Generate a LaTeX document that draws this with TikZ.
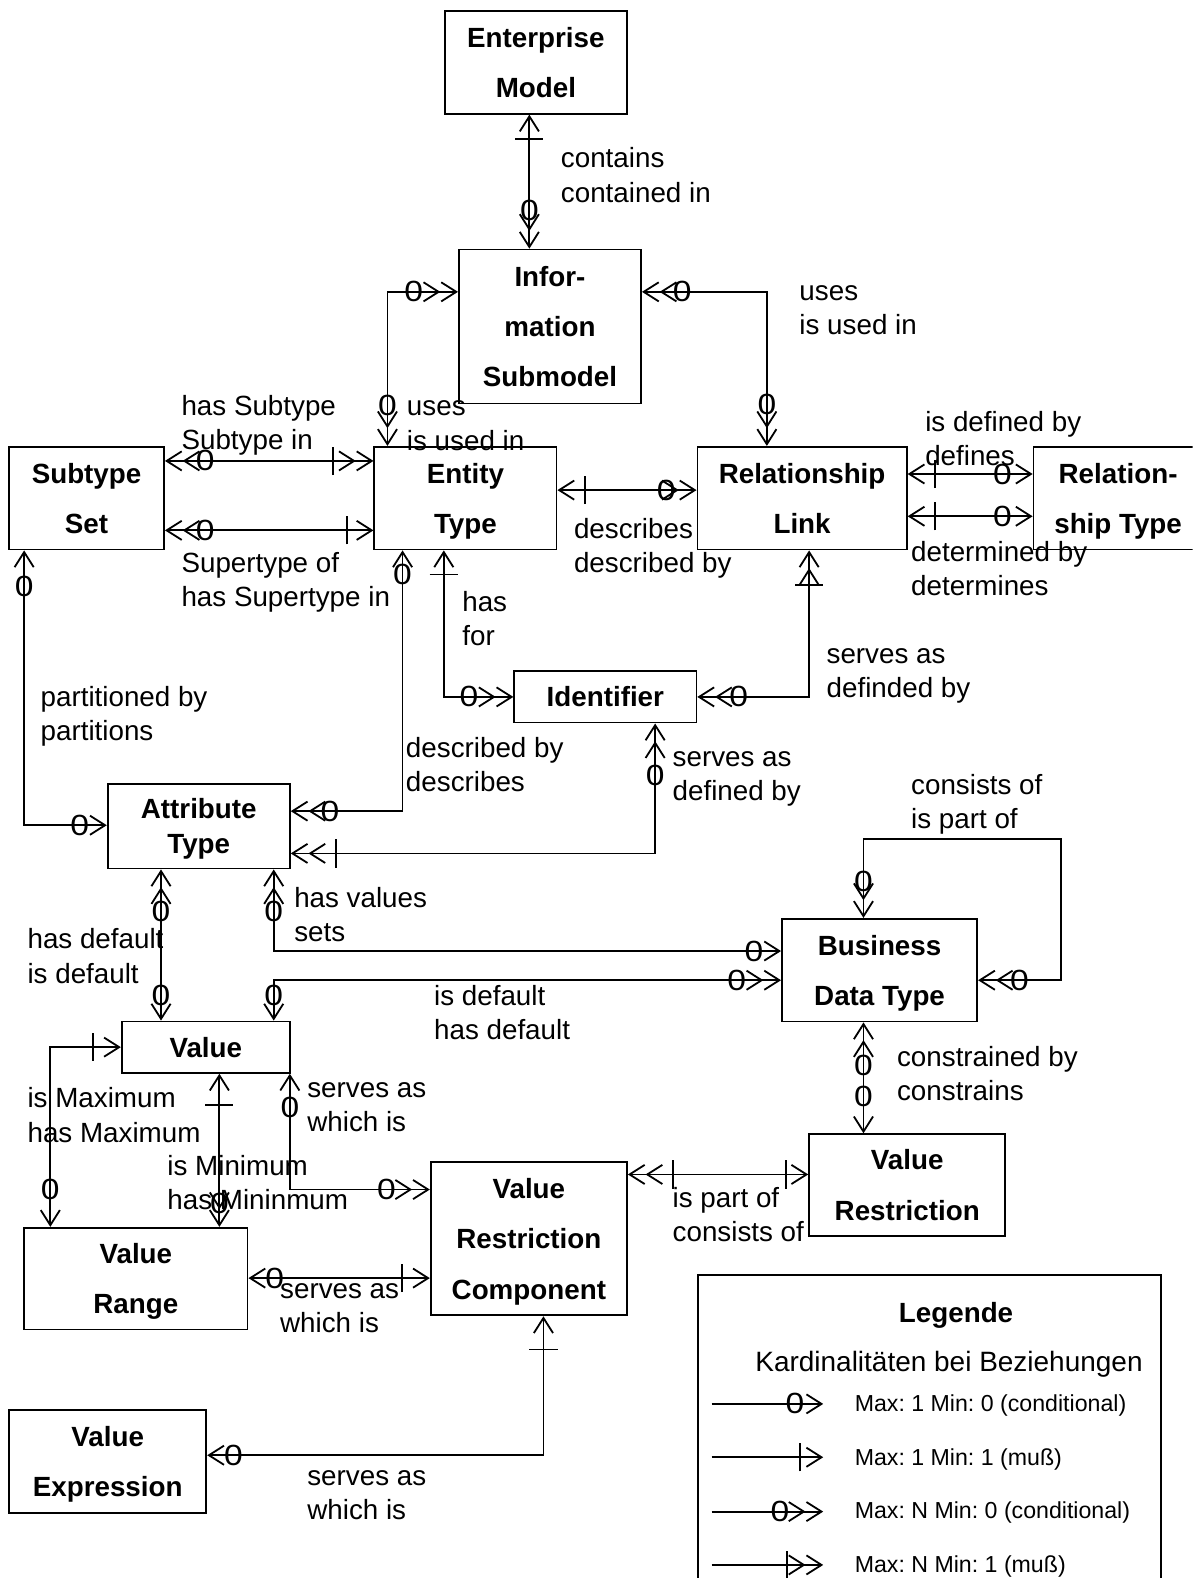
\documentclass[tikz,border=0pt]{standalone}
\usepackage{fontspec}
\usepackage{graphicx}
\setmainfont{Liberation Sans}
\frenchspacing
\usetikzlibrary{arrows.meta, decorations.markings, positioning}
\newcommand{\lblfont}{\fontsize{13.8}{17}\selectfont}
\newcommand{\entfont}{\fontsize{13.8}{25}\selectfont\bfseries}
\newcommand{\nought}{\scalebox{1.15}[1]{0}}
\tikzset{
    sgl/.tip={Straight Barb[length=7.5pt,width=9.5pt]},
    dbl/.tip={Straight Barb[length=7.5pt,width=9.5pt,sep=0pt]Straight Barb[length=7.5pt,width=9.5pt,sep=0pt]}
}
\begin{document}
\begin{tikzpicture}[
    x=0.5pt, y=-0.5pt,
    entity/.style={draw, line width=0.9pt, align=center, inner sep=0pt, text depth=0pt, font=\entfont},
    lbl/.style={anchor=west, align=left, inner sep=0pt, font=\lblfont},
    legtxt/.style={anchor=west, inner sep=0pt, font=\fontsize{11.5}{14}\selectfont},
    zero/.style={inner sep=0pt, font=\fontsize{14.5}{17}\selectfont},
    rel/.style={draw, line width=0.9pt},
    zs/.style={postaction={decorate, decoration={markings, mark=at position #1 with {\node[zero] {\nought};}}}},
    ze/.style={postaction={decorate, decoration={markings, mark=at position -#1 with {\node[zero] {\nought};}}}},
    bs/.style={postaction={decorate, decoration={markings, mark=at position #1 with {\draw[-, line width=0.9pt] (0,-7pt) -- (0,7pt);}}}},
    be/.style={postaction={decorate, decoration={markings, mark=at position -#1 with {\draw[-, line width=0.9pt] (0,-7pt) -- (0,7pt);}}}}
]
    \useasboundingbox (0,0) rectangle (1185,1568);
    \clip (0,0) rectangle (1185,1568);
    \fill[white] (0,0) rectangle (1185,1568);

    % Entities
    \node[entity, minimum width=90.5pt, minimum height=51pt] (em) at (532.5,62) {Enterprise\\Model};
    \node[entity, minimum width=90.5pt, minimum height=76.5pt] (info) at (546.5,324.5) {Infor-\\mation\\Submodel};
    \node[entity, minimum width=77pt, minimum height=51pt] (subset) at (86,495) {Subtype\\Set};
    \node[entity, minimum width=90.5pt, minimum height=51pt] (etype) at (462.5,495) {Entity\\Type};
    \node[entity, minimum width=104pt, minimum height=51pt] (rlink) at (797,495) {Relationship\\Link};
    \node[entity, minimum width=84pt, minimum height=51pt] (rtype) at (1111,495) {Relation-\\ship Type};
    \node[entity, minimum width=90.5pt, minimum height=25.5pt] (ident) at (601.5,692.5) {Identifier};
    \node[entity, minimum width=90.5pt, minimum height=42pt, font=\fontsize{13.8}{17.5}\selectfont\bfseries] (attr) at (197.5,821) {Attribute\\Type};
    \node[entity, minimum width=97pt, minimum height=51pt] (bdt) at (874,964) {Business\\Data Type};
    \node[entity, minimum width=83.5pt, minimum height=25.5pt] (value) at (204.5,1040.5) {Value};
    \node[entity, minimum width=97.5pt, minimum height=50.5pt] (vrestr) at (901.5,1177.5) {Value\\Restriction};
    \node[entity, minimum width=97.5pt, minimum height=76pt] (vrc) at (525.5,1231) {Value\\Restriction\\Component};
    \node[entity, minimum width=111pt, minimum height=50.5pt] (vrange) at (135,1270.5) {Value\\Range};
    \node[entity, minimum width=98pt, minimum height=51pt] (vexpr) at (107,1452) {Value\\Expression};

    % Relationships
    \draw[rel, sgl-dbl, bs=12pt, ze=19pt] (em.south -| 526,0) -- (info.north -| 526,0);
    \draw[rel, dbl-dbl, zs=22pt, ze=20pt] (info.west |- 0,290) -| (etype.north -| 385,0);
    \draw[rel, dbl-dbl, zs=20pt, ze=20.5pt] (info.east |- 0,290) -| (rlink.north -| 762,0);
    \draw[rel, dbl-dbl, zs=20pt, be=20pt] (subset.east |- 0,458) -- (etype.west |- 0,458);
    \draw[rel, dbl-sgl, zs=20pt, be=13pt] (subset.east |- 0,527) -- (etype.west |- 0,527);
    \draw[rel, sgl-dbl, bs=13.5pt, ze=15pt] (etype.east |- 0,487) -- (rlink.west |- 0,487);
    \draw[rel, sgl-sgl, bs=13.5pt, ze=15pt] (rlink.east |- 0,471) -- (rtype.west |- 0,471);
    \draw[rel, sgl-sgl, bs=13.5pt, ze=15pt] (rlink.east |- 0,513) -- (rtype.west |- 0,513);
    \draw[rel, sgl-dbl, bs=12pt, ze=22pt] (etype.south -| 441,0) |- (ident.west);
    \draw[rel, dbl-dbl, bs=17pt, ze=20.5pt] (rlink.south -| 804,0) |- (ident.east);
    \draw[rel, sgl-dbl, zs=12pt, ze=19.5pt] (etype.south -| 400,0) |- (attr.east |- 0,806);
    \draw[rel, sgl-sgl, zs=18pt, ze=13.5pt] (subset.south -| 24,0) |- (attr.west |- 0,820);
    \draw[rel, dbl-dbl, zs=26pt, be=22.5pt] (ident.south -| 651,0) |- (attr.east |- 0,848);
    \draw[rel, dbl-sgl, zs=21pt, ze=12.5pt] (attr.south -| 160,0) -- (value.north -| 160,0);
    \draw[rel, dbl-sgl, zs=21pt, ze=13.5pt] (attr.south -| 272,0) |- (bdt.west |- 0,945);
    \draw[rel, sgl-dbl, zs=12.5pt, ze=22pt] (value.north -| 272,0) |- (bdt.west |- 0,974);
    \draw[rel, dbl-dbl, zs=18pt, ze=20.5pt] (bdt.north -| 858,0) |- (1054,834) |- (bdt.east |- 0,974);
    \draw[rel, dbl-sgl, zs=21.5pt, ze=18.5pt] (bdt.south -| 858,0) -- (vrestr.north -| 858,0);
    \draw[rel, sgl-sgl, bs=14pt, ze=18.5pt] (value.west) -| (vrange.north -| 50,0);
    \draw[rel, sgl-dbl, bs=15.5pt, ze=11.5pt] (value.south -| 218,0) -- (vrange.north -| 218,0);
    \draw[rel, sgl-dbl, zs=17pt, ze=21.5pt] (value.south -| 288,0) |- (vrc.west |- 0,1182);
    \draw[rel, dbl-sgl, bs=22.5pt, be=11pt] (vrc.east |- 0,1167) -- (vrestr.west |- 0,1167);
    \draw[rel, sgl-sgl, zs=13pt, be=14pt] (vrange.east |- 0,1270) -- (vrc.west |- 0,1270);
    \draw[rel, sgl-sgl, bs=16.5pt, ze=13pt] (vrc.south -| 540,0) |- (vexpr.east |- 0,1446);

    % Labels
    \node[lbl] (l1) at (557,174) {contains\\contained in};
    \node[lbl] (l2) at (404,423) {uses\\is used in};
    \node[lbl] (l3) at (794,308) {uses\\is used in};
    \node[lbl] (l4) at (180,423) {has Subtype\\Subtype in};
    \node[lbl] (l5) at (180,579) {Supertype of\\has Supertype in};
    \node[lbl] (l6) at (919,436) {is defined by\\defines};
    \node[lbl] (l7) at (570,545) {describes\\described by};
    \node[lbl] (l8) at (905,565) {determined by\\determines};
    \node[lbl] (l9) at (459,615) {has\\for};
    \node[lbl] (l10) at (821,672) {serves as\\definded by};
    \node[lbl] (l11) at (40,712) {partitioned by\\partitions};
    \node[lbl] (l12) at (403,760) {described by\\describes};
    \node[lbl] (l13) at (668,774) {serves as\\defined by};
    \node[lbl] (l14) at (905,799) {consists of\\is part of};
    \node[lbl] (l15) at (292,909) {has values\\sets};
    \node[lbl] (l16) at (27,950) {has default\\is default};
    \node[lbl] (l17) at (431,1006) {is default\\has default};
    \node[lbl] (l18) at (891,1067) {constrained by\\constrains};
    \node[lbl] (l19) at (27,1108) {is Maximum\\has Maximum};
    \node[lbl] (l20) at (305,1100) {serves as\\which is};
    \node[lbl] (l21) at (166,1175) {is Minimum\\has Mininmum};
    \node[lbl] (l22) at (668,1207) {is part of\\consists of};
    \node[lbl] (l23) at (278,1300) {serves as\\which is};
    \node[lbl] (l24) at (305,1486) {serves as\\which is};

    % Legend
    \node[draw, line width=0.9pt, minimum width=230pt, minimum height=170pt, anchor=north west, inner sep=0pt] (legend) at (693,1266) {};
    \node[font=\fontsize{13.8}{17}\selectfont\bfseries] (legtitle) at (950,1307) {Legende};
    \node[font=\fontsize{13.9}{17}\selectfont] (legsub) at (943,1356) {Kardinalitäten bei Beziehungen};
    \coordinate (k1a) at (707,1395); \coordinate (k1b) at (818,1395);
    \coordinate (k2a) at (707,1448); \coordinate (k2b) at (818,1448);
    \coordinate (k3a) at (707,1502); \coordinate (k3b) at (818,1502);
    \coordinate (k4a) at (707,1555); \coordinate (k4b) at (818,1555);
    \draw[rel, -sgl, ze=14pt] (k1a) -- (k1b);
    \draw[rel, -sgl, be=11.5pt] (k2a) -- (k2b);
    \draw[rel, -dbl, ze=21.5pt] (k3a) -- (k3b);
    \draw[rel, -dbl, be=18pt] (k4a) -- (k4b);
    \node[legtxt] (k1) at (849,1397) {Max: 1 Min: 0 (conditional)};
    \node[legtxt] (k2) at (849,1450) {Max: 1 Min: 1 (muß)};
    \node[legtxt] (k3) at (849,1503) {Max: N Min: 0 (conditional)};
    \node[legtxt] (k4) at (849,1557) {Max: N Min: 1 (muß)};
\end{tikzpicture}
\end{document}
